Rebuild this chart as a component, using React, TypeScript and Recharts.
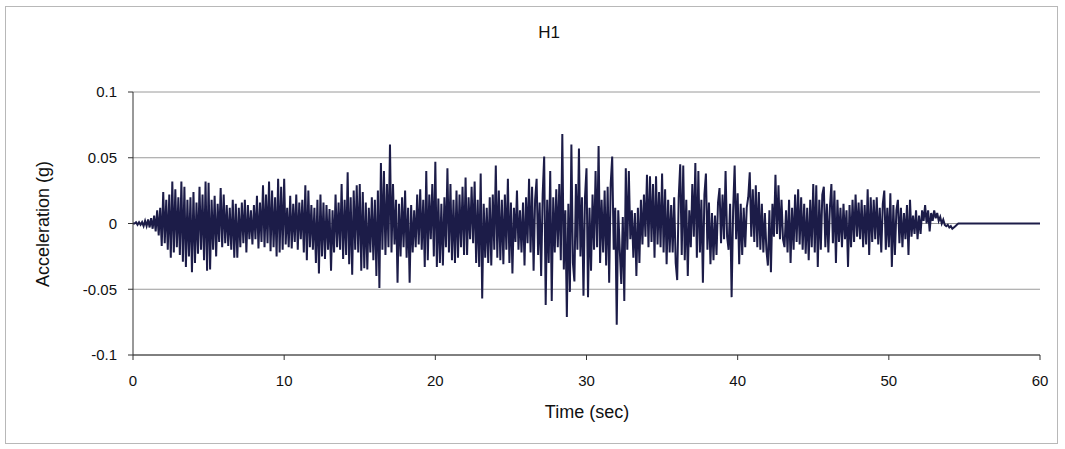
import React from "react";
import { LineChart, Line, XAxis, YAxis, CartesianGrid } from "recharts";

// Acceleration record H1, sampled every 0.1 s, values in milli-g
const sampleStep = 0.1;

const accel0to10 = [
  0, 0, 1, -1, 1, -1, 1, -2, 2, -2,
  3, -3, 4, -4, 6, -6, 10, -9, 12, -17,
  24, -15, 18, -20, 22, -26, 32, -22, 26, -18,
  20, -24, 32, -29, 28, -33, 18, -25, 20, -37,
  24, -30, 16, -23, 28, -20, 22, -28, 32, -36,
  31, -35, 18, -20, 21, -25, 15, -14, 27, -18,
  22, -15, 14, -17, 12, -20, 18, -26, 15, -26,
  12, -18, 16, -15, 18, -22, 14, -12, 10, -16,
  14, -12, 21, -19, 16, -14, 29, -18, 22, -15,
  32, -21, 25, -18, 20, -25, 34, -22, 28, -20,
];

const accel10to20 = [
  34, -16, 12, -18, 21, -19, 15, -14, 22, -20,
  16, -12, 18, -22, 29, -28, 25, -18, 14, -20,
  12, -30, 18, -38, 22, -25, 16, -27, 14, -20,
  11, -36, 10, -22, 22, -18, 16, -20, 30, -27,
  18, -24, 39, -31, 20, -39, 25, -20, 29, -22,
  30, -36, 24, -34, 16, -35, 12, -22, 20, -28,
  18, -40, 25, -49, 46, -20, 40, -24, 30, -18,
  60, -22, 30, -16, 18, -45, 15, -25, 20, -18,
  25, -26, 12, -45, 14, -22, 10, -18, 22, -16,
  26, -20, 18, -33, 40, -28, 22, -12, 30, -25,
];

const accel20to30 = [
  47, -33, 19, -30, 15, -32, 20, -18, 42, -22,
  30, -28, 18, -30, 25, -26, 22, -18, 28, -24,
  35, -24, 20, -12, 28, -15, 32, -30, 18, -33,
  38, -57, 15, -26, 12, -30, 20, -32, 22, -20,
  44, -26, 25, -28, 18, -31, 22, -20, 34, -30,
  16, -38, 12, -14, 25, -20, 10, -22, 16, -32,
  20, -15, 34, -22, 28, -36, 18, 34, -24, 16,
  -40, 22, 51, -62, 18, -30, 40, -59, 20, -22,
  26, -18, 30, -28, 68, -35, 10, -71, 15, -52,
  60, -30, -44, 30, -20, 57, -25, 20, -55, 20,
];

const accel30to40 = [
  42, -56, 12, -36, 22, -20, 40, -18, 59, -30,
  18, -22, 25, -32, 28, -45, 30, 51, -20, 12,
  -77, 10, -20, -46, 5, -59, 42, -20, 40, -12,
  10, -26, 8, -40, 12, -30, 18, -16, 22, -10,
  37, -18, 36, -14, 30, -26, 36, -16, 24, -18,
  38, -22, 26, -31, 18, -22, 14, -22, 20, -30,
  -43, 20, 45, -24, 44, -28, 18, -40, 10, -18,
  30, -10, 46, -26, 40, -22, 18, -45, 22, 38,
  -20, 16, -31, 8, -28, 6, -24, 16, 27, -15,
  22, -12, 40, -10, -20, 15, -56, 10, 44, -12,
];

const accel40to50 = [
  23, -31, 15, -24, 12, -18, 12, 20, 39, -10,
  26, -14, 29, -18, 24, -20, 15, -22, 8, -20,
  -32, 10, -37, 15, -10, 37, -8, 29, -12, 18,
  -12, -18, 10, -22, 18, -30, 12, -20, 22, -14,
  26, -16, 20, -20, 15, -23, 12, -28, 18, -18,
  30, -22, 29, -33, 18, -20, 22, 28, -18, 15,
  -22, 12, 30, -15, 25, -30, 18, -14, 12, -18,
  15, -12, 10, -33, 14, -18, 18, -14, 22, -10,
  16, -12, 18, -18, 14, -16, 26, -24, 20, -14,
  18, -12, 20, -16, 12, -22, 15, 25, -20, 12,
];

const accel50to55 = [
  -18, 23, -33, 14, -24, 10, 18, -15, 12, -18,
  8, -12, 14, -24, 18, -10, 6, -8, 10, -12,
  6, -8, 10, 2, 14, 0, 10, -6, 8, 2,
  10, 4, 8, 2, 5, 0, 3, -1, -2, -1,
  -3, -2, -4, -3, -2, -1, 0, 0, 0, 0,
];

const tailTimes = [55, 60];
const tailValues = [0, 0];

const xTicks = [0, 10, 20, 30, 40, 50, 60];
const yTicks = [-0.1, -0.05, 0, 0.05, 0.1];

const segments = [accel0to10, accel10to20, accel20to30, accel30to40, accel40to50, accel50to55];

const data: { t: number; a: number }[] = [];
let idx = 0;
segments.forEach((seg) =>
  seg.forEach((v) => {
    data.push({ t: Math.round(idx * sampleStep * 10) / 10, a: v / 1000 });
    idx++;
  })
);
tailTimes.forEach((t, k) => data.push({ t, a: tailValues[k] / 1000 }));

const font = '"Liberation Sans", Arial, sans-serif';

export default function App() {
  return (
    <div style={{ position: "relative", width: 1065, height: 449, background: "#fff", fontFamily: font }}>
      <style>{`body{margin:0;background:#fff}`}</style>
      <div
        style={{
          position: "absolute",
          left: 5,
          top: 6,
          width: 1053,
          height: 438,
          border: "1px solid #b8b8b8",
          boxSizing: "border-box",
        }}
      />
      <div style={{ position: "absolute", left: 499, top: 23, width: 100, textAlign: "center", fontSize: 17, color: "#111" }}>
        H1
      </div>
      <LineChart width={1065} height={449} data={data} margin={{ top: 92, right: 25, bottom: 64, left: 73 }}>
        <CartesianGrid vertical={false} stroke="#9a9a9a" strokeWidth={1} />
        <XAxis
          dataKey="t"
          type="number"
          domain={[0, 60]}
          ticks={xTicks}
          height={30}
          tickSize={5}
          tickMargin={15}
          stroke="#333"
          tick={{ fill: "#111", fontSize: 15, fontFamily: font }}
          allowDataOverflow
        />
        <YAxis
          type="number"
          domain={[-0.1, 0.1]}
          ticks={yTicks}
          width={60}
          tickSize={5}
          tickMargin={11}
          stroke="#333"
          tick={{ fill: "#111", fontSize: 15, fontFamily: font }}
        />
        <Line
          type="linear"
          dataKey="a"
          stroke="#1c1c48"
          strokeWidth={2}
          dot={false}
          isAnimationActive={false}
        />
      </LineChart>
      <div style={{ position: "absolute", left: 487, top: 402, width: 200, textAlign: "center", fontSize: 18, color: "#111" }}>
        Time (sec)
      </div>
      <div
        style={{
          position: "absolute",
          left: 43,
          top: 224,
          transform: "translate(-50%, -50%) rotate(-90deg)",
          whiteSpace: "nowrap",
          fontSize: 18,
          color: "#111",
        }}
      >
        Acceleration (g)
      </div>
    </div>
  );
}
